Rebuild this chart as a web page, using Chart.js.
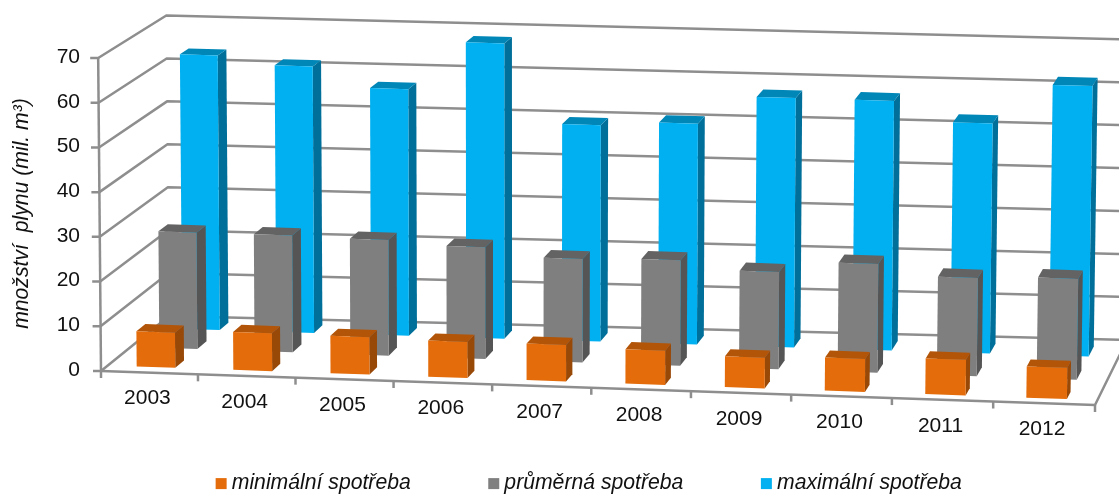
<!DOCTYPE html>
<html lang="cs">
<head>
<meta charset="utf-8">
<title>Spotřeba plynu</title>
<script src="https://cdn.jsdelivr.net/npm/chart.js@4/dist/chart.umd.js"></script>
<style>
  html, body { margin: 0; padding: 0; background: #fff; }
  canvas { display: block; }
</style>
</head>
<body>
<canvas id="chart" width="1119" height="495"></canvas>
<script>
/* data */
const years = ['2003', '2004', '2005', '2006', '2007', '2008', '2009', '2010', '2011', '2012'];
const minSpotreba = [7.9, 8.5, 8.4, 8.1, 8.2, 7.7, 6.9, 7.4, 8.0, 7.0];
const prumSpotreba = [26.5, 26.6, 26.3, 25.4, 23.5, 24.0, 22.1, 24.7, 22.3, 22.9];
const maxSpotreba = [63.4, 61.5, 56.9, 68.1, 49.9, 50.9, 57.5, 57.5, 53.0, 62.3];
const yTicks = [0, 10, 20, 30, 40, 50, 60, 70];

/* looks of the three rows: front colour, side, top, and how deep in the box */
const frontColors = ['#E46C0A', '#7F7F7F', '#00B0F0'];
const sideColors  = ['#984807', '#555555', '#006F9A'];
const topColors   = ['#B25508', '#636363', '#0087B8'];
const depths      = [[0.10, 0.235], [0.44, 0.58], [0.78, 0.91]];

const FONT = "'Liberation Sans', Arial, sans-serif";
const GRID = '#8E8E8E';

/* fake 3D: floor corners of the box, t goes left to right, d front to back */
const FRONT = { x0: 101, y0: 371, x1: 1095, y1: 405 };
const BACK  = { x0: 169, y0: 316, x1: 1127, y1: 340 };
const BACK_SHRINK = 0.96;

function lerp(a, b, k) { return a + (b - a) * k; }

function project(area, px, py, d) {
  let t = (px - area.left) / (area.right - area.left);
  t = t - 0.027 * t * (1 - t);
  /* rows sit a bit closer to the front towards the right side */
  const dw = d - 0.07 * t * 4 * d * (1 - d);
  const h = (area.bottom - py) * lerp(1, BACK_SHRINK, dw);
  const lean = lerp(-0.009, 0.015, t);
  return {
    x: lerp(lerp(FRONT.x0, FRONT.x1, t), lerp(BACK.x0, BACK.x1, t), dw) + h * lean,
    y: lerp(lerp(FRONT.y0, FRONT.y1, t), lerp(BACK.y0, BACK.y1, t), dw) - h,
  };
}

function poly(ctx, pts, fill) {
  ctx.beginPath();
  pts.forEach((p, i) => (i ? ctx.lineTo(p.x, p.y) : ctx.moveTo(p.x, p.y)));
  ctx.closePath();
  ctx.fillStyle = fill;
  ctx.fill();
}

function line(ctx, pts) {
  ctx.beginPath();
  pts.forEach((p, i) => (i ? ctx.lineTo(p.x, p.y) : ctx.moveTo(p.x, p.y)));
  ctx.stroke();
}

/* bars stay library elements, only the way they paint themselves changes */
let currentDataset = 0;
let currentArea = null;
Chart.BarElement.prototype.draw = function (ctx) {
  const area = currentArea;
  const { x, y, base, width } = this.getProps(['x', 'y', 'base', 'width'], true);
  const [d0, d1] = depths[currentDataset];
  const l = x - width / 2, r = x + width / 2;

  const fbl = project(area, l, base, d0), fbr = project(area, r, base, d0);
  const ftl = project(area, l, y, d0),    ftr = project(area, r, y, d0);
  const bbr = project(area, r, base, d1);
  const btl = project(area, l, y, d1),    btr = project(area, r, y, d1);

  poly(ctx, [fbr, ftr, btr, bbr], sideColors[currentDataset]);
  poly(ctx, [ftl, ftr, btr, btl], topColors[currentDataset]);
  poly(ctx, [fbl, fbr, ftr, ftl], this.options.backgroundColor);
};

const box3d = {
  id: 'box3d',
  afterLayout(chart) {
    /* legend is off centre in the original and sits low */
    const lg = chart.legend;
    lg.left += 44;
    lg.right += 44;
    lg.top = 473 - lg.options.labels.padding;
    lg.bottom = 495;
  },
  beforeDatasetsDraw(chart) {
    const { ctx, chartArea: a, scales } = chart;
    ctx.save();
    ctx.strokeStyle = GRID;
    ctx.lineWidth = 2.5;
    ctx.lineJoin = 'round';

    scales.y.ticks.forEach(tick => {
      const py = scales.y.getPixelForValue(tick.value);
      const p0 = project(a, a.left, py, 0);
      line(ctx, [
        { x: p0.x - 8, y: p0.y },
        p0,
        project(a, a.left, py, 1),
        project(a, a.right, py, 1),
      ]);
    });

    /* axis, front floor edge and right floor edge */
    line(ctx, [project(a, a.left, a.top, 0), project(a, a.left, a.bottom, 0)]);
    line(ctx, [
      project(a, a.left, a.bottom, 0),
      project(a, a.right, a.bottom, 0),
      project(a, a.right, a.bottom, 1),
    ]);

    /* small marks between the years */
    for (let i = 0; i <= years.length; i++) {
      const px = a.left + (a.right - a.left) * i / years.length;
      const p = project(a, px, a.bottom, 0);
      line(ctx, [p, { x: p.x, y: p.y + 7 }]);
    }
    ctx.restore();
  },
  beforeDatasetDraw(chart, args) {
    currentDataset = args.index;
    currentArea = chart.chartArea;
  },
  afterDraw(chart) {
    const { ctx, chartArea: a, scales } = chart;
    ctx.save();
    ctx.fillStyle = '#111';
    ctx.font = '21px ' + FONT;
    ctx.textAlign = 'center';
    ctx.textBaseline = 'middle';
    years.forEach((label, i) => {
      const p = project(a, scales.x.getPixelForValue(i), a.bottom, 0);
      ctx.fillText(label, p.x - 2, p.y + 26);
    });
    ctx.restore();
  },
};

new Chart(document.getElementById('chart'), {
  type: 'bar',
  plugins: [box3d],
  data: {
    labels: years,
    datasets: [
      { label: 'minimální spotřeba', data: minSpotreba, backgroundColor: frontColors[0], clip: false },
      { label: 'průměrná spotřeba', data: prumSpotreba, backgroundColor: frontColors[1], clip: false },
      { label: 'maximální spotřeba', data: maxSpotreba, backgroundColor: frontColors[2], clip: false },
    ],
  },
  options: {
    responsive: false,
    animation: false,
    layout: { padding: { top: 57, right: 24, left: 0, bottom: 0 } },
    datasets: { bar: { grouped: false, barPercentage: 0.4, categoryPercentage: 1 } },
    plugins: {
      tooltip: { enabled: false },
      legend: {
        position: 'bottom',
        maxHeight: 28,
        labels: {
          color: '#111',
          font: { family: FONT, size: 21.2, style: 'italic' },
          usePointStyle: true,
          pointStyle: 'rect',
          boxWidth: 0.01,
          boxHeight: 11,
          padding: 83,
        },
      },
    },
    scales: {
      x: {
        grid: { display: false },
        border: { display: false },
        ticks: { display: false },
        afterFit(s) { s.height = 97; },
      },
      y: {
        min: 0,
        max: 70,
        grid: { display: false },
        border: { display: false },
        afterBuildTicks(s) { s.ticks = yTicks.map(v => ({ value: v })); },
        afterFit(s) { s.width = 101; },
        ticks: {
          color: '#111',
          padding: 13,
          font: { family: FONT, size: 21 },
        },
        title: {
          display: true,
          text: 'množství  plynu (mil. m³)',
          color: '#111',
          font: { family: FONT, size: 21.2, style: 'italic' },
          padding: { top: 9, bottom: 0 },
        },
      },
    },
  },
});
</script>
</body>
</html>
